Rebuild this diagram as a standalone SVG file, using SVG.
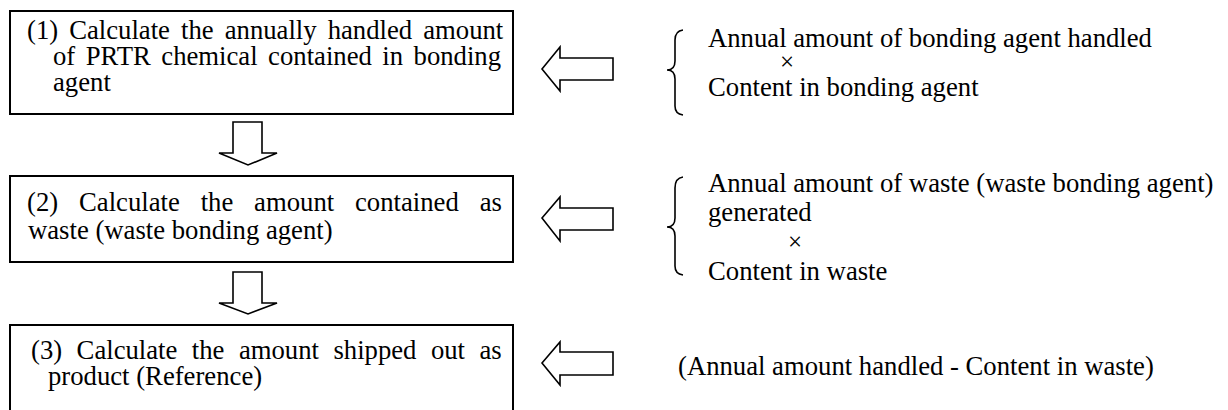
<svg xmlns="http://www.w3.org/2000/svg" width="1228" height="410" viewBox="0 0 1228 410">
  <style>
    text { font-family: "Liberation Serif", "Times New Roman", serif; font-size: 26.7px; fill: #000; }
    text.times { font-size: 25px; text-anchor: middle; }
    .box { fill: #fff; stroke: #000; stroke-width: 2; }
    .arrow { fill: #fff; stroke: #000; stroke-width: 1.6; stroke-linejoin: miter; }
    .brace { fill: none; stroke: #000; stroke-width: 1.6; }
  </style>
  <rect width="1228" height="410" fill="#fff"/>

  <!-- calculation steps -->
  <g id="step1">
    <rect class="box" x="10" y="11" width="503" height="103"/>
    <text x="27" y="39" word-spacing="4.4">(1) Calculate the annually handled amount</text>
    <text x="53" y="65" word-spacing="3.8">of PRTR chemical contained in bonding</text>
    <text x="53" y="91">agent</text>
  </g>
  <g id="step2">
    <rect class="box" x="10" y="176" width="503" height="86"/>
    <text x="27" y="211" word-spacing="14.2">(2) Calculate the amount contained as</text>
    <text x="28" y="239">waste (waste bonding agent)</text>
  </g>
  <g id="step3">
    <rect class="box" x="10" y="325" width="503" height="110"/>
    <text x="31" y="359" word-spacing="7.8">(3) Calculate the amount shipped out as</text>
    <text x="48" y="385">product (Reference)</text>
  </g>

  <!-- formulas feeding each step -->
  <g id="formula1">
    <path class="brace" d="M683,30 Q675,31 675,40 L675,61 Q675,70 667,70 Q675,70 675,79 L675,106 Q675,114 683,115"/>
    <text x="708" y="47">Annual amount of bonding agent handled</text>
    <text class="times" x="787" y="70">×</text>
    <text x="708" y="96">Content in bonding agent</text>
  </g>
  <g id="formula2">
    <path class="brace" d="M683,177 Q675,178 675,188 L675,218 Q675,227 667,227 Q675,227 675,236 L675,266 Q675,274 683,275"/>
    <text x="708" y="192">Annual amount of waste (waste bonding agent)</text>
    <text x="708" y="221">generated</text>
    <text class="times" x="795" y="250">×</text>
    <text x="708" y="280">Content in waste</text>
  </g>
  <g id="formula3">
    <text x="678" y="375">(Annual amount handled - Content in waste)</text>
  </g>

  <!-- block arrows between steps and from formulas -->
  <g id="connectors">
    <polygon class="arrow" points="233,122 262,122 262,153 277,153 248,165 219,153 233,153"/>
    <polygon class="arrow" points="233,272 262,272 262,303 277,303 248,314 219,303 233,303"/>
    <polygon class="arrow" points="542,69 560,47 560,58 613,58 613,80 560,80 560,91"/>
    <polygon class="arrow" points="542,218 560,197 560,208 613,208 613,230 560,230 560,241"/>
    <polygon class="arrow" points="542,363 560,342 560,352 613,352 613,375 560,375 560,385"/>
  </g>
</svg>
